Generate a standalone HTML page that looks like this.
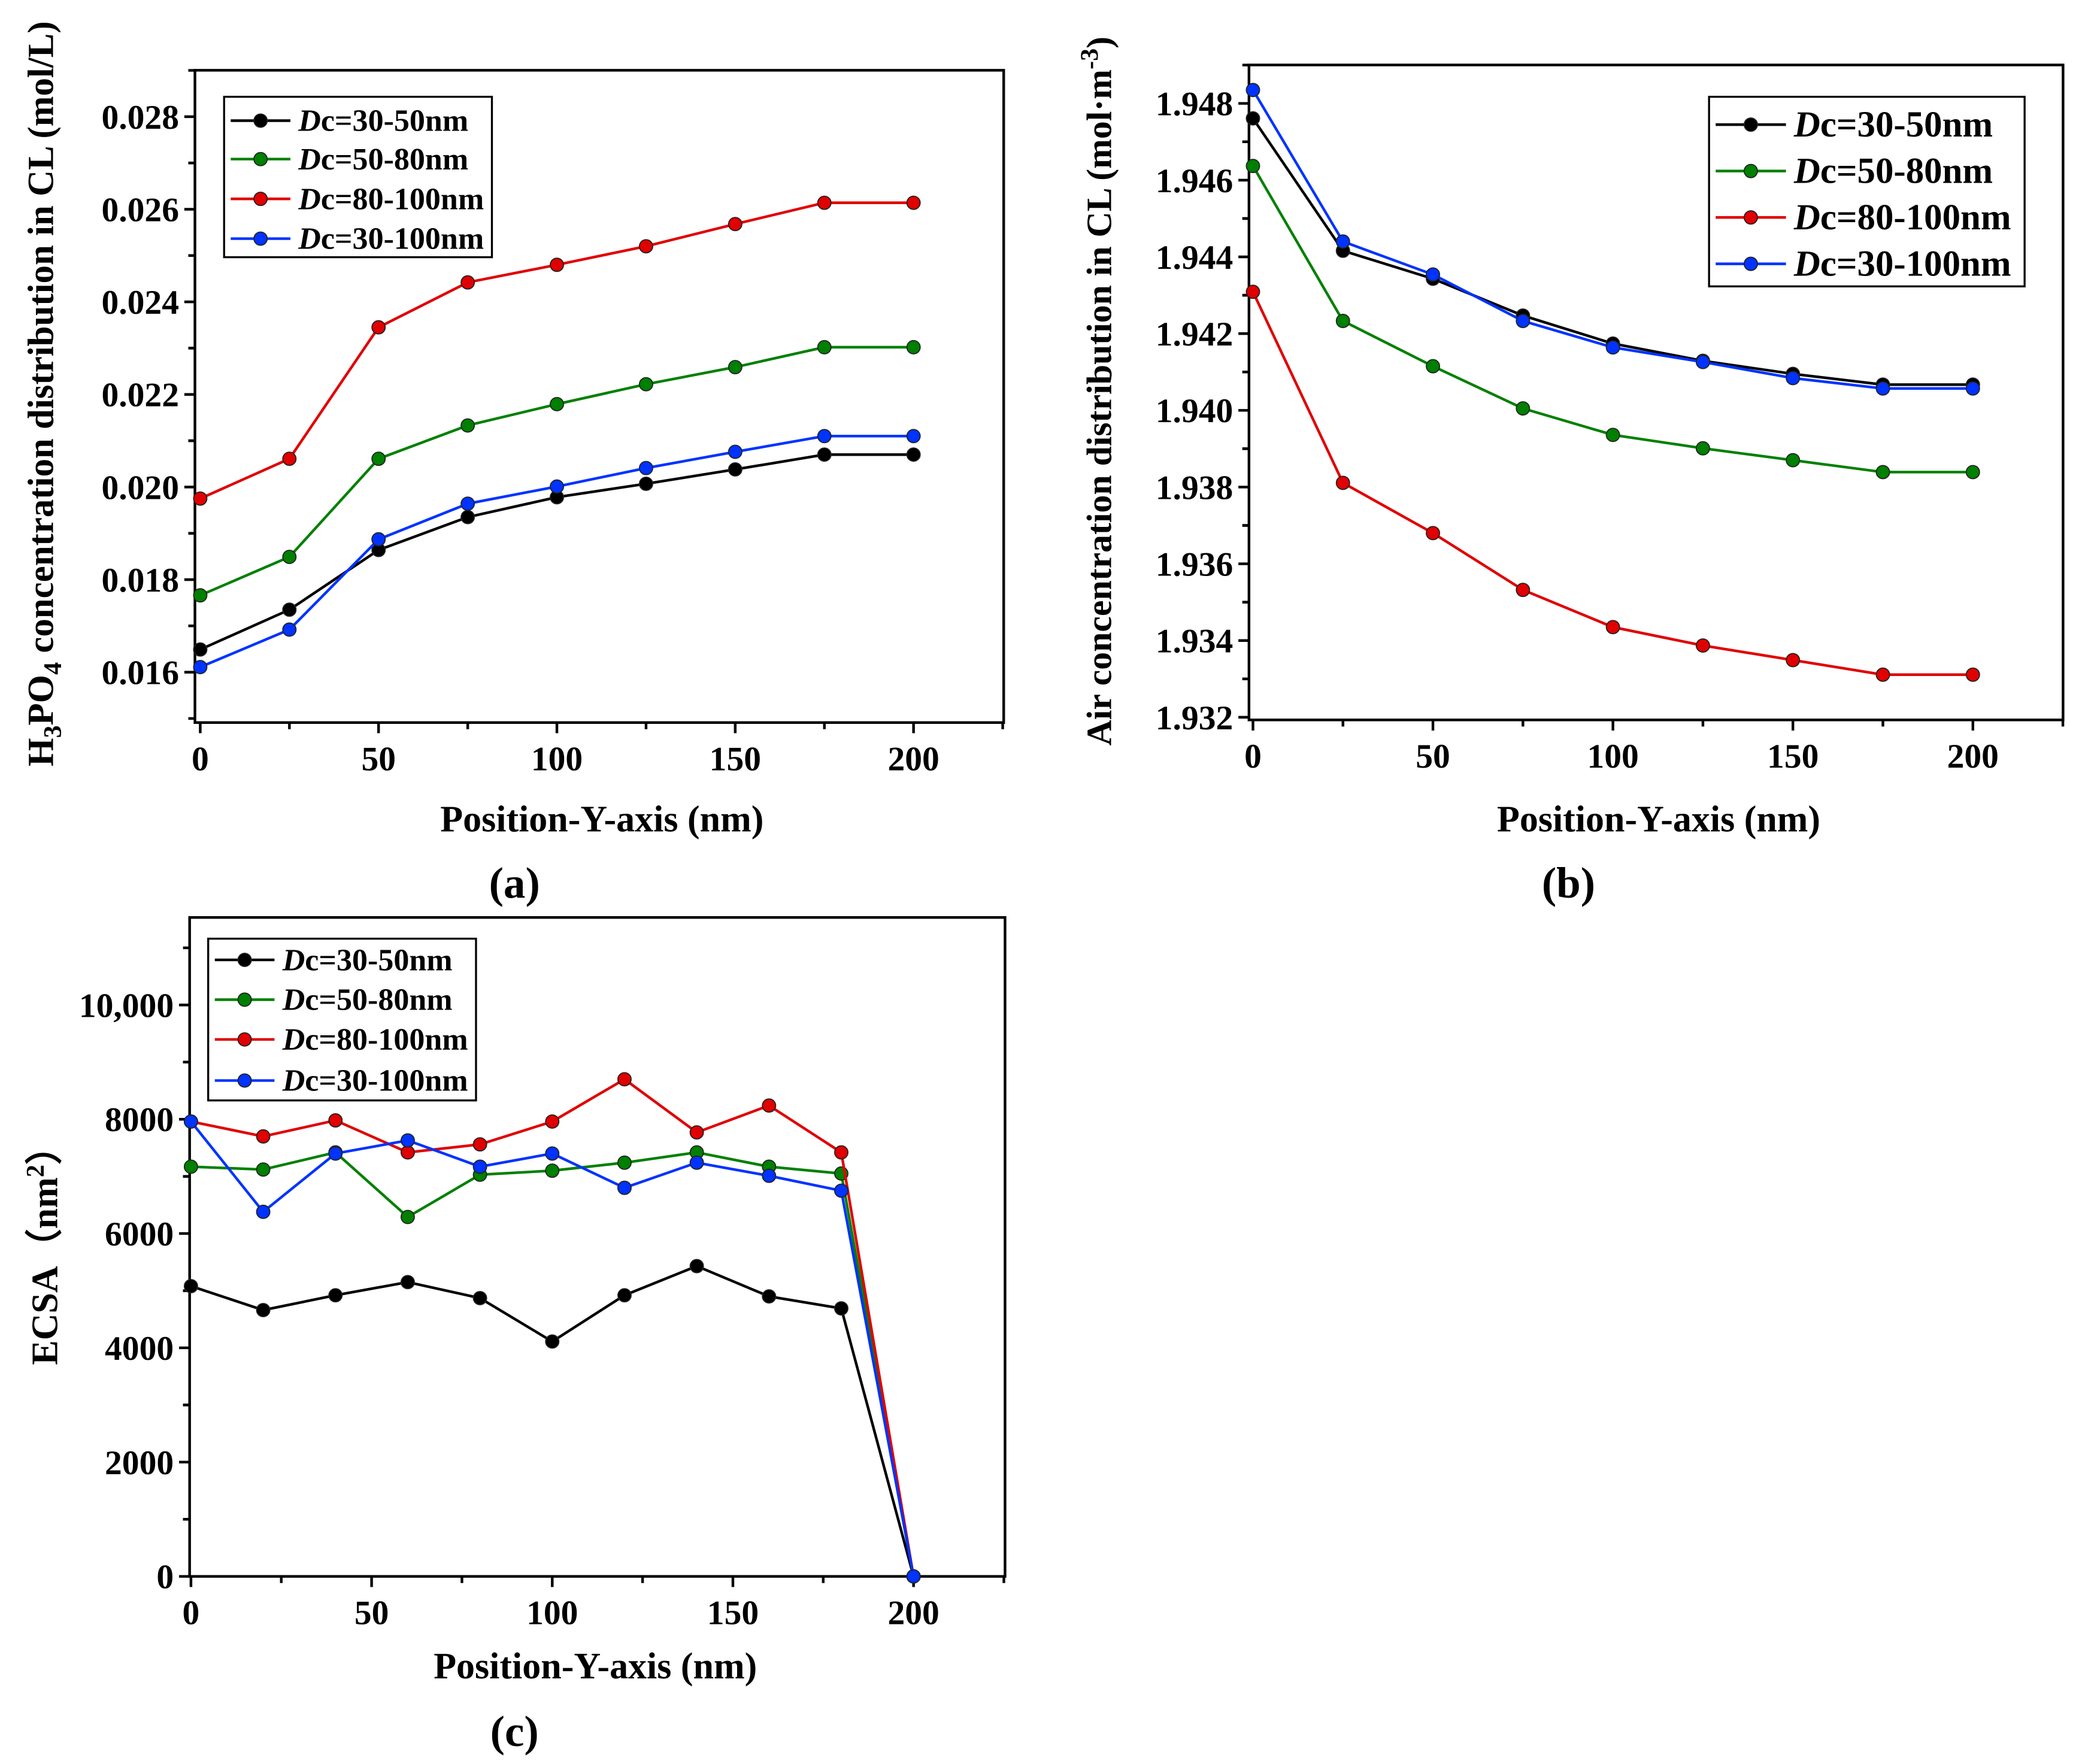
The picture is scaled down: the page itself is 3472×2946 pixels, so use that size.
<!DOCTYPE html>
<html><head><meta charset="utf-8"><style>
html,body{margin:0;padding:0;background:#fff}
svg{display:block}
text{font-family:"Liberation Serif",serif;font-weight:bold;fill:#000}
</style></head><body>
<svg id="fig" width="3472" height="2946" viewBox="0 0 1568 1330.5" xmlns="http://www.w3.org/2000/svg"></svg>
<script>
// ---- Panel (a) data ----
const aX = [0,25,50,75,100,125,150,175,200];
const aBlack = [0.01649,0.01735,0.01864,0.01935,0.01978,0.02007,0.02038,0.0207,0.0207];
const aGreen = [0.01766,0.01849,0.02061,0.02133,0.02179,0.02222,0.02259,0.02302,0.02302];
const aRed = [0.01975,0.02061,0.02345,0.02442,0.0248,0.0252,0.02568,0.02614,0.02614];
const aBlue = [0.01611,0.01692,0.01887,0.01964,0.02001,0.02041,0.02076,0.0211,0.0211];
const aYTicks = [0.016,0.018,0.020,0.022,0.024,0.026,0.028];
const aYLabels = ["0.016","0.018","0.020","0.022","0.024","0.026","0.028"];
// ---- Panel (b) data ----
const bX = [0,25,50,75,100,125,150,175,200];
const bBlack = [1.94761,1.94416,1.94343,1.94247,1.94174,1.94129,1.94095,1.94067,1.94067];
const bGreen = [1.94637,1.94233,1.94115,1.94005,1.93936,1.93901,1.9387,1.93839,1.93839];
const bRed = [1.94309,1.93811,1.9368,1.93532,1.93435,1.93387,1.93349,1.93311,1.93311];
const bBlue = [1.94835,1.9444,1.94354,1.94233,1.94164,1.94126,1.94084,1.94057,1.94057];
const bYTicks = [1.932,1.934,1.936,1.938,1.940,1.942,1.944,1.946,1.948];
const bYLabels = ["1.932","1.934","1.936","1.938","1.940","1.942","1.944","1.946","1.948"];
// ---- Panel (c) data ----
const cX = [0,20,40,60,80,100,120,140,160,180,200];
const cBlack = [5080,4660,4920,5150,4870,4110,4920,5430,4900,4690,0];
const cGreen = [7170,7120,7420,6290,7030,7100,7240,7420,7170,7050,0];
const cRed = [7960,7700,7980,7420,7560,7960,8700,7770,8240,7420,0];
const cBlue = [7960,6380,7400,7630,7170,7400,6800,7240,7010,6750,0];
const cYTicks = [0,2000,4000,6000,8000,10000];
const cYLabels = ["0","2000","4000","6000","8000","10,000"];
const xTicks = [0,50,100,150,200];
const xLabels = ["0","50","100","150","200"];
const seriesNames = ["Dc=30-50nm","Dc=50-80nm","Dc=80-100nm","Dc=30-100nm"];
const colors = ["#000000","#008000","#e00000","#0033ff"];

const NS="http://www.w3.org/2000/svg";
const svg=document.getElementById('fig');
function mk(tag,attrs,parent){const e=document.createElementNS(NS,tag);for(const k in attrs)e.setAttribute(k,attrs[k]);(parent||svg).appendChild(e);return e;}

function panel(p){
  const g=mk('g',{});
  
  
  const sx=v=>p.x0+(v-p.xmin)/(p.xmax-p.xmin)*(p.x1-p.x0);
  const sy=v=>p.y0+(v-p.ymin)/(p.ymax-p.ymin)*(p.y1-p.y0);
  const frame=mk('rect',{x:p.L,y:p.T,width:p.R-p.L,height:p.B-p.T,fill:'none',stroke:'#000','stroke-width':2},g);
  
  
  for(let i=0;i<xTicks.length;i++){
    const X=sx(xTicks[i]);
    mk('line',{x1:X,x2:X,y1:p.B,y2:p.B+8,stroke:'#000','stroke-width':2},g);
    const t=mk('text',{x:X,y:p.B+36,'text-anchor':'middle','font-size':26},g);
    t.textContent=xLabels[i];
    
    
    if(i<xTicks.length-1){const m=sx((xTicks[i]+xTicks[i+1])/2);mk('line',{x1:m,x2:m,y1:p.B,y2:p.B+5,stroke:'#000','stroke-width':2},g);}
  }
  const lastMinor=sx(xTicks[xTicks.length-1]+25);
  if(lastMinor<p.R) mk('line',{x1:lastMinor,x2:lastMinor,y1:p.B,y2:p.B+5,stroke:'#000','stroke-width':2},g);
  for(let i=0;i<p.yTicks.length;i++){
    const Y=sy(p.yTicks[i]);
    mk('line',{x1:p.L-8,x2:p.L,y1:Y,y2:Y,stroke:'#000','stroke-width':2},g);
    const t=mk('text',{x:p.L-12,y:Y+9,'text-anchor':'end','font-size':26},g);
    t.textContent=p.yLabels[i];
    
    
    const step=p.yTicks[1]-p.yTicks[0];
    for(const mv of [p.yTicks[i]-step/2,p.yTicks[i]+step/2]){
      const m=sy(mv); if(m>p.T&&m<p.B) mk('line',{x1:p.L-5,x2:p.L,y1:m,y2:m,stroke:'#000','stroke-width':2},g);
    }
  }
  p.series.forEach((s,si)=>{
    const sg=mk('g',{},g);
    
    
    const pts=s.map((v,i)=>sx(p.xs[i])+','+sy(v)).join(' ');
    mk('polyline',{points:pts,fill:'none',stroke:colors[si],'stroke-width':2},sg);
    s.forEach((v,i)=>{
      const c=mk('circle',{cx:sx(p.xs[i]),cy:sy(v),r:5,fill:colors[si],stroke:'#222','stroke-width':0.8},sg);
      
      
    });
  });
  const lg=mk('g',{},g);
  
  
  mk('rect',{x:p.lx0,y:p.ly0,width:p.lx1-p.lx0,height:p.ly1-p.ly0,fill:'#fff',stroke:'#000','stroke-width':1.5},lg);
  p.ley.forEach((y,i)=>{
    mk('line',{x1:p.lx0+5,x2:p.lx0+p.lline,y1:y,y2:y,stroke:colors[i],'stroke-width':2},lg);
    mk('circle',{cx:p.lx0+5+(p.lline-5)/2,cy:y,r:5,fill:colors[i],stroke:'#222','stroke-width':0.8},lg);
    const t=mk('text',{x:p.lx0+p.lline+6,y:y+p.lfs*0.33,'font-size':p.lfs},lg);
    t.innerHTML='<tspan font-style="italic">D</tspan>'+seriesNames[i].slice(1);
    
    
  });
  const xt=mk('text',{x:p.xtX,y:p.xtY,'text-anchor':'middle','font-size':28},g);
  xt.textContent='Position-Y-axis (nm)';
  
  
  const yt=mk('text',{x:0,y:0,'text-anchor':'middle','font-size':p.ytfs,transform:`translate(${p.ytX},${p.ytY}) rotate(-90)`},g);
  yt.innerHTML=p.ytitle;
  
  
  const lab=mk('text',{x:p.labX,y:p.labY,'text-anchor':'middle','font-size':33},g);
  lab.setAttribute('font-weight','normal');
  lab.innerHTML='(<tspan font-weight="bold">'+p.id.slice(-1)+'</tspan>)';
  
  
}

panel({id:'panel-a',L:147,R:757,T:53,B:545,x0:151,x1:689,xmin:0,xmax:200,y0:507,y1:88,ymin:0.016,ymax:0.028,
  yTicks:aYTicks,yLabels:aYLabels,xs:aX,series:[aBlack,aGreen,aRed,aBlue],
  lx0:169,lx1:371,ly0:73,ly1:194,ley:[91,120,150,180],lline:50,lfs:23.5,
  xtX:454,xtY:627,ytX:40,ytY:297,ytfs:27.5,labX:388,labY:677,
  ytitle:'H<tspan font-size="19" dy="6">3</tspan><tspan dy="-6">PO</tspan><tspan font-size="19" dy="6">4</tspan><tspan dy="-6"> concentration distribution in CL (mol/L)</tspan>'});
panel({id:'panel-b',L:942,R:1556,T:49,B:543,x0:945,x1:1488,xmin:0,xmax:200,y0:541,y1:78,ymin:1.932,ymax:1.948,
  yTicks:bYTicks,yLabels:bYLabels,xs:bX,series:[bBlack,bGreen,bRed,bBlue],
  lx0:1289,lx1:1527,ly0:73,ly1:216,ley:[94,129,164,199],lline:58,lfs:27.5,
  xtX:1251,xtY:627,ytX:838,ytY:295,ytfs:27,labX:1183,labY:677,
  ytitle:'Air concentration distribution in CL (mol·m<tspan font-size="19" dy="-10">-3</tspan><tspan dy="10">)</tspan>'});
panel({id:'panel-c',L:143,R:758,T:692,B:1189,x0:144,x1:689,xmin:0,xmax:200,y0:1189,y1:758,ymin:0,ymax:10000,
  yTicks:cYTicks,yLabels:cYLabels,xs:cX,series:[cBlack,cGreen,cRed,cBlue],
  lx0:157,lx1:359,ly0:708,ly1:830,ley:[724,754,784,815],lline:50,lfs:23.5,
  xtX:449,xtY:1266,ytX:43,ytY:940,ytfs:28,labX:388,labY:1317,
  ytitle:'ECSA（nm<tspan font-size="19" dy="-10">2</tspan><tspan dy="10">）</tspan>'});
</script>
</body></html>
